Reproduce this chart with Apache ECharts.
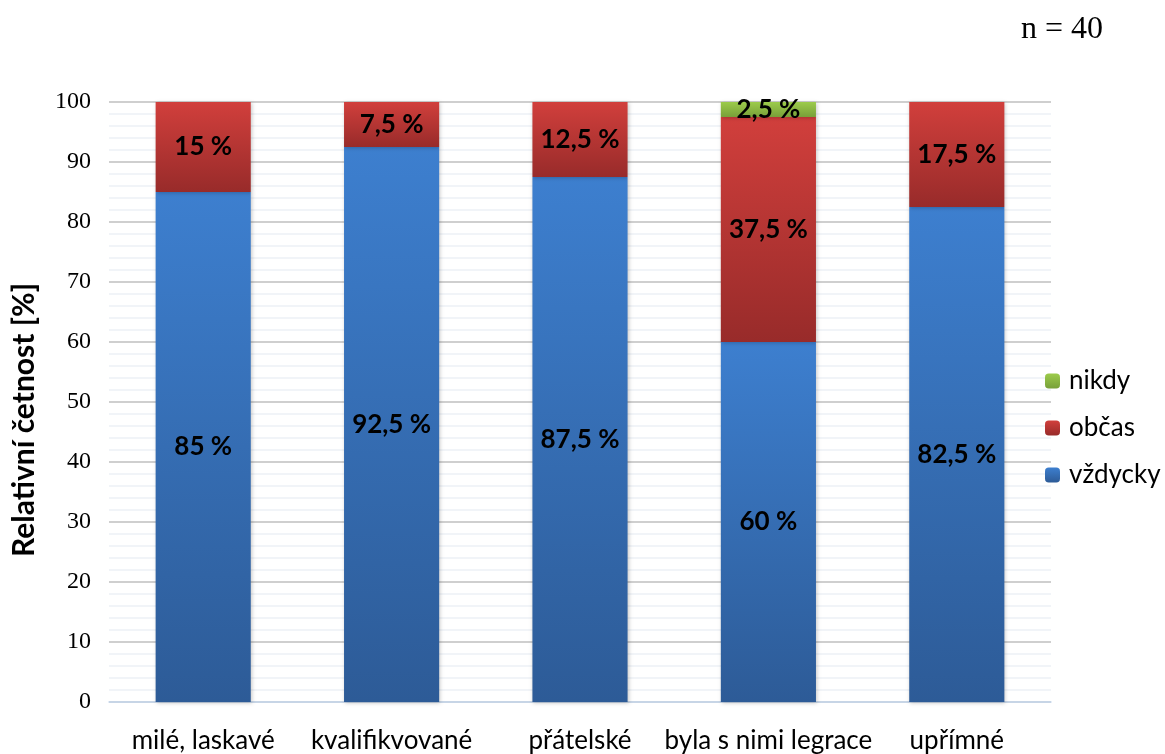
<!DOCTYPE html>
<html>
<head>
<meta charset="utf-8">
<script src="https://cdn.jsdelivr.net/npm/echarts@6/dist/echarts.min.js"></script>
<style>
  html, body { margin: 0; padding: 0; background: #fff; }
  #chart { width: 1165px; height: 754px; }
</style>
</head>
<body>
<div id="chart"></div>
<script>
// Categories and stacked shares (percent) for each answer
const categories = ['milé, laskavé', 'kvalifikvované', 'přátelské', 'byla s nimi legrace', 'upřímné'];
const vzdycky = [85, 92.5, 87.5, 60, 82.5];
const obcas = [15, 7.5, 12.5, 37.5, 17.5];
const nikdy = [0, 0, 0, 2.5, 0];
const yTicks = [0, 10, 20, 30, 40, 50, 60, 70, 80, 90, 100];

const labelFont = 'Lato, "Open Sans", sans-serif';
const serifFont = '"Liberation Serif", "Times New Roman", serif';

function grad(top, bottom) {
  return new echarts.graphic.LinearGradient(0, 0, 0, 1, [
    { offset: 0, color: top },
    { offset: 1, color: bottom }
  ]);
}

function fmt(v) {
  return String(v).replace('.', ',') + ' %';
}

function makeSeries(name, data, top, bottom) {
  return {
    name: name,
    type: 'bar',
    stack: 'total',
    barWidth: '50.5%',
    data: data,
    itemStyle: {
      color: grad(top, bottom),
      shadowBlur: 4,
      shadowColor: 'rgba(0,0,0,0.22)',
      shadowOffsetX: 1,
      shadowOffsetY: 1
    },
    label: {
      show: true,
      position: 'inside',
      color: '#000',
      fontFamily: labelFont,
      fontWeight: 'bold',
      fontSize: 26,
      formatter: p => (p.value > 0 ? fmt(p.value) : '')
    },
    emphasis: { disabled: true }
  };
}

const chart = echarts.init(document.getElementById('chart'), null, { renderer: 'canvas' });

chart.setOption({
  animation: false,
  backgroundColor: '#fff',
  grid: { left: 109, right: 114, top: 102, bottom: 52, containLabel: false },
  graphic: [{
    type: 'text',
    left: 1021,
    top: 14,
    style: {
      text: 'n = 40',
      font: '32px ' + serifFont,
      fill: '#000'
    }
  }, {
    // vertical axis title
    type: 'text',
    x: 24,
    y: 420,
    rotation: Math.PI / 2,
    style: {
      text: 'Relativní četnost [%]',
      font: 'bold 30px ' + labelFont,
      fill: '#000',
      align: 'center',
      verticalAlign: 'middle'
    }
  }],
  legend: {
    orient: 'vertical',
    left: 1040,
    top: 363,
    itemWidth: 15,
    itemHeight: 15,
    itemGap: 21,
    data: ['nikdy', 'občas', 'vždycky'],
    textStyle: { fontFamily: labelFont, fontSize: 26, lineHeight: 26, color: '#000', padding: [0, 0, 0, 4] }
  },
  xAxis: {
    type: 'category',
    data: categories,
    axisLine: { lineStyle: { color: '#c5d7ee', width: 1.5 } },
    axisTick: { show: false },
    axisLabel: { color: '#000', fontFamily: labelFont, fontSize: 26, margin: 26, interval: 0 }
  },
  yAxis: {
    type: 'value',
    min: yTicks[0],
    max: yTicks[yTicks.length - 1],
    interval: 10,
    axisLine: { show: false },
    axisTick: { show: false },
    axisLabel: {
      color: '#000',
      fontFamily: serifFont,
      fontSize: 24,
      margin: 18
    },
    splitLine: { lineStyle: { color: '#bfbfbf', width: 1.5 } },
    minorTick: { show: false, splitNumber: 5 },
    minorSplitLine: { show: true, lineStyle: { color: '#edf1f6', width: 1.5 } }
  },
  series: [
    makeSeries('vždycky', vzdycky, '#3d7fcf', '#2d5b97'),
    makeSeries('občas', obcas, '#d13f3c', '#982b2a'),
    makeSeries('nikdy', nikdy, '#9ccb4b', '#78a039')
  ]
});
</script>
</body>
</html>
